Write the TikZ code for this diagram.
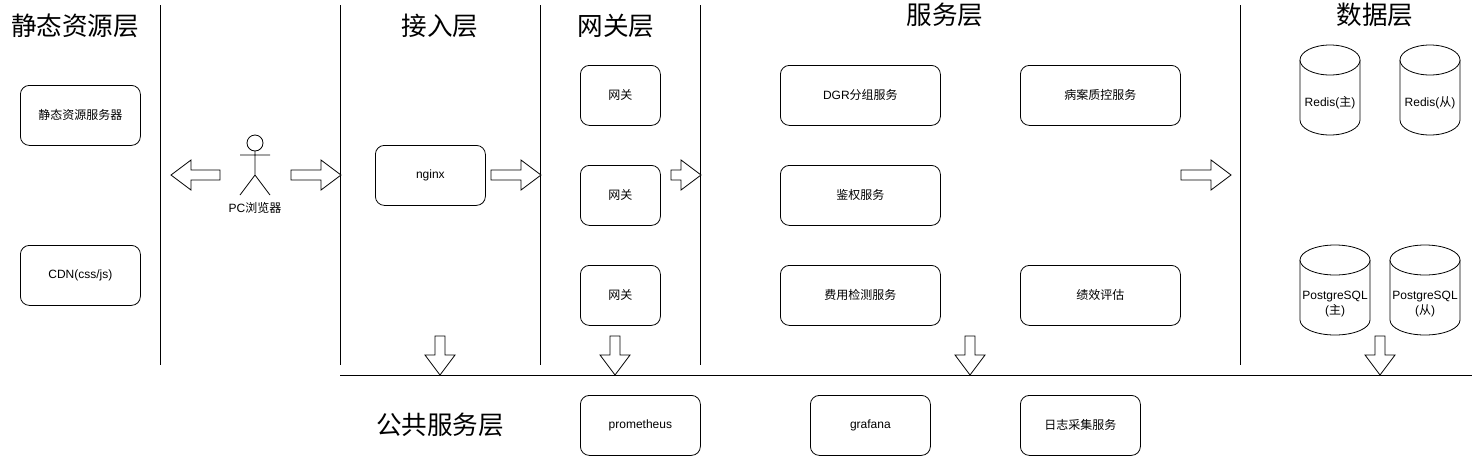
\documentclass[tikz,border=0pt]{standalone}
\usepackage{fontspec}
\setmainfont{Liberation Sans}
\newfontfamily\cjk{Noto Sans CJK SC}
\newcommand{\zh}[1]{{\cjk #1}}
\tikzset{
  x=1pt,y=-1pt,
  layerline/.style={draw=black,line width=0.8pt},
  roundbox/.style={draw=black,line width=0.8pt,rounded corners=9pt,font=\fontsize{12}{15}\selectfont,align=center,anchor=north west,inner sep=0pt},
  title/.style={font=\cjk\fontsize{25.6}{28}\selectfont,inner sep=0pt},
  small/.style={font=\fontsize{12}{15}\selectfont,align=center,inner sep=0pt},
  blockarrow/.style={draw=black,fill=white,line width=0.8pt,miter limit=10},
  figure/.style={draw=black,line width=0.8pt,fill=white},
}
% box: name, x1, y1, w, h, text
\newcommand{\rbox}[6]{\node[roundbox,minimum width=#4pt,minimum height=#5pt] (#1) at (#2,#3) {\raisebox{-0.8pt}{#6}};}
% right arrow: tail x, tip x, centre y
\newcommand{\harrow}[3]{\draw[blockarrow] (#1,#3-5) -- ({#2-20},#3-5) -- ({#2-20},#3-15) -- (#2,#3) -- ({#2-20},#3+15) -- ({#2-20},#3+5) -- (#1,#3+5) -- cycle;}
% down arrow: centre x, top y, tip y
\newcommand{\varrow}[3]{\draw[blockarrow] (#1-5,#2) -- (#1+5,#2) -- (#1+5,{#3-20}) -- (#1+15,{#3-20}) -- (#1,#3) -- (#1-15,{#3-20}) -- (#1-5,{#3-20}) -- cycle;}
% cylinder: x1, x2, y1, y2
\newcommand{\cyl}[4]{%
  \draw[figure] (#1,#3+15) -- (#1,#4-15) arc[start angle=180,end angle=0,x radius={(#2-#1)/2},y radius=15] -- (#2,#3+15);
  \draw[figure] ({(#1+#2)/2},#3+15) ellipse[x radius={(#2-#1)/2},y radius=15];
}
\begin{document}
\begin{tikzpicture}
\useasboundingbox (0,0) rectangle (1475,456);
% layer lines
\coordinate (l1t) at (160,5); \coordinate (l1b) at (160,365);
\coordinate (l2t) at (340,5); \coordinate (l2b) at (340,365);
\coordinate (l3t) at (540,5); \coordinate (l3b) at (540,365);
\coordinate (l4t) at (700,5); \coordinate (l4b) at (700,365);
\coordinate (l5t) at (1240,5); \coordinate (l5b) at (1240,365);
\coordinate (hl) at (340,375); \coordinate (hr) at (1472,375);
\draw[layerline] (l1t) -- (l1b);
\draw[layerline] (l2t) -- (l2b);
\draw[layerline] (l3t) -- (l3b);
\draw[layerline] (l4t) -- (l4b);
\draw[layerline] (l5t) -- (l5b);
\draw[layerline] (hl) -- (hr);
% titles
\node[title] (t1) at (75,26) {静态资源层};
\node[title] (t2) at (440,26) {接入层};
\node[title] (t3) at (616,26) {网关层};
\node[title] (t4) at (945,15) {服务层};
\node[title] (t5) at (1375,15) {数据层};
\node[title] (t6) at (440,425) {公共服务层};
% boxes
\rbox{a1}{20}{85}{120}{60}{\zh{静态资源服务器}}
\rbox{a2}{20}{245}{120}{60}{CDN(css/js)}
\rbox{n}{375}{145}{110}{60}{nginx}
\rbox{g1}{580}{65}{80}{60}{\zh{网关}}
\rbox{g2}{580}{165}{80}{60}{\zh{网关}}
\rbox{g3}{580}{265}{80}{60}{\zh{网关}}
\rbox{s1}{780}{65}{160}{60}{DGR\zh{分组服务}}
\rbox{s2}{780}{165}{160}{60}{\zh{鉴权服务}}
\rbox{s3}{780}{265}{160}{60}{\zh{费用检测服务}}
\rbox{s4}{1020}{65}{160}{60}{\zh{病案质控服务}}
\rbox{s5}{1020}{265}{160}{60}{\zh{绩效评估}}
\rbox{p1}{580}{395}{120}{60}{prometheus}
\rbox{p2}{810}{395}{120}{60}{grafana}
\rbox{p3}{1020}{395}{120}{60}{\zh{日志采集服务}}
% databases
\cyl{1300}{1360}{45}{135}
\cyl{1400}{1460}{45}{135}
\cyl{1300}{1370}{245}{335}
\cyl{1390}{1460}{245}{335}
\node[small] (d1) at (1330,103) {Redis(\zh{主})};
\node[small] (d2) at (1430,103) {Redis(\zh{从})};
\node[small] (d3) at (1335,304) {PostgreSQL\\(\zh{主})};
\node[small] (d4) at (1425,304) {PostgreSQL\\(\zh{从})};
% actor
\draw[figure] (255,143) circle[radius=8];
\draw[figure] (255,151) -- (255,175) (240,155) -- (270,155) (240,195) -- (255,175) -- (270,195);
\node[small] (actor) at (255,208) {PC\zh{浏览器}};
% block arrows
\draw[blockarrow] (220,170) -- (191,170) -- (191,160) -- (171,175) -- (191,190) -- (191,180) -- (220,180) -- cycle;
\harrow{291}{341}{175}
\harrow{491}{541}{175}
\harrow{671}{701}{175}
\harrow{1181}{1231}{175}
\varrow{440}{336}{375}
\varrow{615}{336}{375}
\varrow{970}{336}{375}
\varrow{1380}{336}{375}
\end{tikzpicture}
\end{document}
